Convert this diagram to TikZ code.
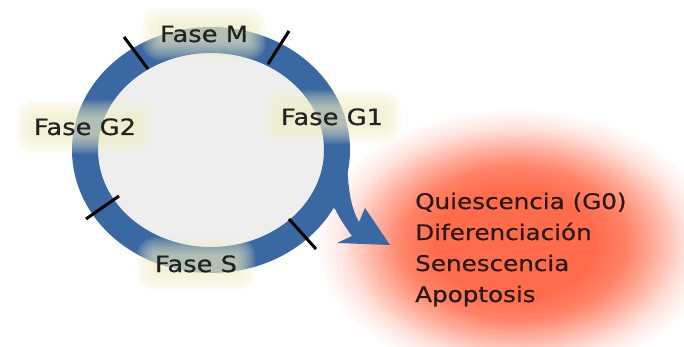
\documentclass[tikz,border=0pt]{standalone}
\usepackage{fontspec}
\setmainfont{DejaVu Sans}
\newfontfamily\labfont[FakeBold=0.6]{DejaVu Sans}
\usetikzlibrary{calc}
\definecolor{ringblue}{RGB}{58,104,162}
\definecolor{innergray}{RGB}{238,238,238}
\definecolor{glowc}{RGB}{244,240,196}
\definecolor{labtext}{RGB}{34,34,34}
\definecolor{redtext}{RGB}{42,24,20}
\definecolor{glowcore}{RGB}{255,108,76}
\colorlet{glowhi}{glowcore!85!white}
\colorlet{glowmid}{glowcore!50!white}
\colorlet{glowlow}{glowcore!18!white}
\pgfdeclareradialshading{redglow}{\pgfpointorigin}{color(0bp)=(glowcore); color(10bp)=(glowcore); color(14bp)=(glowhi); color(18bp)=(glowmid); color(21.5bp)=(glowlow); color(25bp)=(white); color(50bp)=(white)}
\pgfdeclarelayer{bg}
\pgfdeclarelayer{glowlayer}
\pgfsetlayers{bg,glowlayer,main}
\newcommand\labelglow[1]{%
  \begin{pgfonlayer}{glowlayer}
  \foreach \d in {16,14,12,10,8,6,4,2,0,-2}{
    \pgfmathsetmacro\rr{\d+2}
    \pgfmathsetmacro\rc{max(\d+2,1)}
    \fill[glowc, opacity=0.1, rounded corners=\rc pt]
      ([xshift=-\rr pt, yshift=-\rr pt]#1.south west) rectangle
      ([xshift=\rr pt, yshift=\rr pt]#1.north east);
  }
  \end{pgfonlayer}}
\tikzset{
  lab/.style={font=\labfont\fontsize{22.5}{27}\selectfont, text=labtext, inner sep=0pt, xscale=1.145, anchor=base},
  outtext/.style={font=\labfont\fontsize{21.5}{26}\selectfont, text=redtext, inner sep=0pt, xscale=1.145, anchor=base west},
  tick/.style={draw=black, line width=3pt},
}
\begin{document}
\begin{tikzpicture}[x=1pt,y=-1pt]
\useasboundingbox (0,0) rectangle (684,347);
\begin{pgfonlayer}{bg}
  \fill[white] (0,0) rectangle (684,347);
  \shade[shading=redglow] (515,243) ellipse [x radius=200pt, y radius=135pt];
  \draw[ringblue, line width=26pt, fill=innergray] (211,150) ellipse [x radius=126pt, y radius=110pt];
  \fill[ringblue] (347,160) .. controls (348,190) and (351,208) .. (359,222)
     -- (365,208) -- (390,245) -- (337,243) -- (352,236)
     .. controls (346,228) and (340,219) .. (335,209)
     -- (322,200) -- (335,160) -- cycle;
\end{pgfonlayer}
% ticks
\coordinate (t1a) at (124,37);  \coordinate (t1b) at (148,69);
\coordinate (t2a) at (289,31);  \coordinate (t2b) at (268,64);
\coordinate (t3a) at (119,196); \coordinate (t3b) at (86,219);
\coordinate (t4a) at (289,219); \coordinate (t4b) at (316,249);
\draw[tick] (t1a) -- (t1b);
\draw[tick] (t2a) -- (t2b);
\draw[tick] (t3a) -- (t3b);
\draw[tick] (t4a) -- (t4b);
% phase labels
\node[lab] (m)  at (204,42)  {Fase M};
\node[lab] (g1) at (332,125) {Fase G1};
\node[lab] (g2) at (85,135)  {Fase G2};
\node[lab] (s)  at (196,272) {Fase S};
\labelglow{m}
\labelglow{g1}
\labelglow{g2}
\labelglow{s}
% outcomes
\node[outtext] (q) at (415,209) {Quiescencia (G0)};
\node[outtext] (d) at (415,240) {Diferenciación};
\node[outtext] (sn) at (415,271) {Senescencia};
\node[outtext] (a) at (415,302) {Apoptosis};
\end{tikzpicture}
\end{document}
